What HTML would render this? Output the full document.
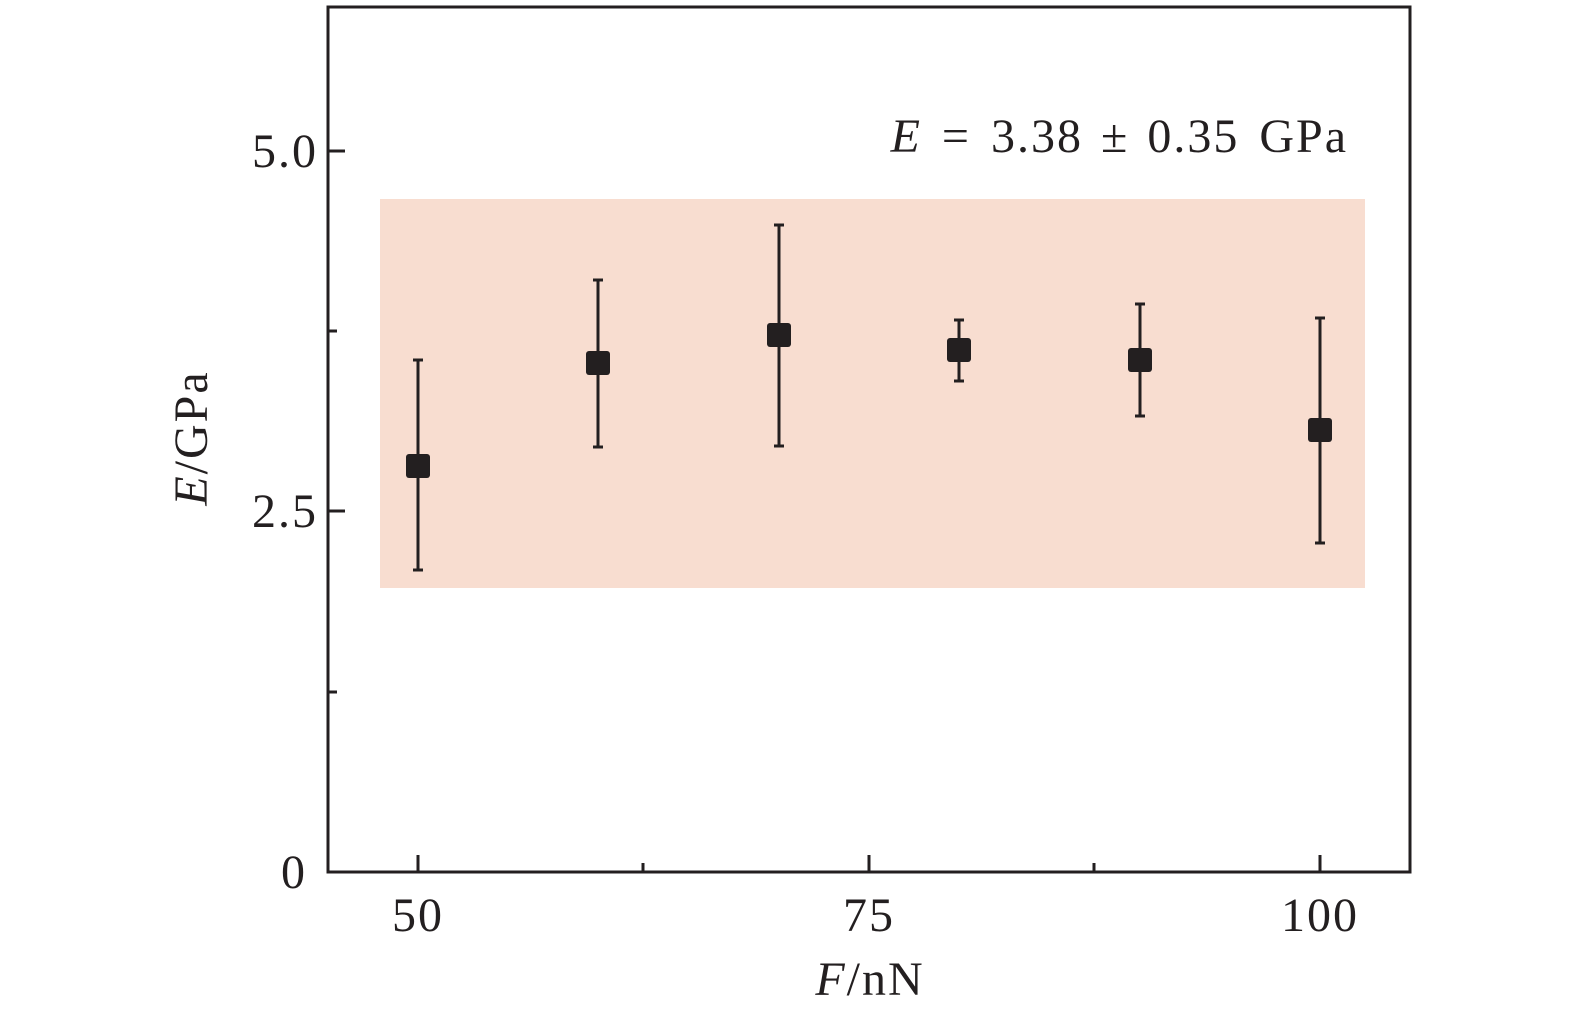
<!DOCTYPE html>
<html><head><meta charset="utf-8"><style>
html,body{margin:0;padding:0;background:#fff;overflow:hidden;width:1575px;height:1014px;}
svg{display:block;}
</style></head><body>
<svg width="1575" height="1014" xmlns="http://www.w3.org/2000/svg" font-family="'Liberation Serif', serif" fill="#231f20">
<rect x="380" y="199" width="985" height="389" fill="#f8ddd0"/>
<g stroke="#231f20" stroke-width="3" fill="none">
<rect x="328" y="7" width="1082" height="865"/>
<line x1="328" y1="151" x2="345" y2="151"/>
<line x1="328" y1="511" x2="345" y2="511"/>
<line x1="328" y1="331" x2="337" y2="331"/>
<line x1="328" y1="692" x2="337" y2="692"/>
<line x1="418" y1="872" x2="418" y2="855"/>
<line x1="869" y1="872" x2="869" y2="855"/>
<line x1="1320" y1="872" x2="1320" y2="855"/>
<line x1="643" y1="872" x2="643" y2="863"/>
<line x1="1094" y1="872" x2="1094" y2="863"/>
</g>
<g stroke="#231f20" stroke-width="3">
<line x1="418" y1="360" x2="418" y2="570"/><line x1="413" y1="360" x2="423" y2="360"/><line x1="413" y1="570" x2="423" y2="570"/>
<line x1="598" y1="280" x2="598" y2="447"/><line x1="593" y1="280" x2="603" y2="280"/><line x1="593" y1="447" x2="603" y2="447"/>
<line x1="779" y1="225" x2="779" y2="446"/><line x1="774" y1="225" x2="784" y2="225"/><line x1="774" y1="446" x2="784" y2="446"/>
<line x1="959" y1="320" x2="959" y2="381"/><line x1="954" y1="320" x2="964" y2="320"/><line x1="954" y1="381" x2="964" y2="381"/>
<line x1="1140" y1="304" x2="1140" y2="416"/><line x1="1135" y1="304" x2="1145" y2="304"/><line x1="1135" y1="416" x2="1145" y2="416"/>
<line x1="1320" y1="318" x2="1320" y2="543"/><line x1="1315" y1="318" x2="1325" y2="318"/><line x1="1315" y1="543" x2="1325" y2="543"/>
</g>
<g>
<rect x="406" y="454" width="24" height="24" rx="3"/>
<rect x="586" y="351" width="24" height="24" rx="3"/>
<rect x="767" y="323" width="24" height="24" rx="3"/>
<rect x="947" y="338" width="24" height="24" rx="3"/>
<rect x="1128" y="348" width="24" height="24" rx="3"/>
<rect x="1308" y="418" width="24" height="24" rx="3"/>
</g>
<g font-size="48" text-anchor="end" letter-spacing="2">
<text x="318" y="167">5.0</text>
<text x="318" y="527">2.5</text>
<text x="307" y="888">0</text>
</g>
<g font-size="48" text-anchor="middle" letter-spacing="2">
<text x="418" y="931">50</text>
<text x="869" y="931">75</text>
<text x="1320" y="931">100</text>
<text x="870" y="995"><tspan font-style="italic">F</tspan>/nN</text>
</g>
<text transform="translate(207,438) rotate(-90)" font-size="48" text-anchor="middle" letter-spacing="2"><tspan font-style="italic">E</tspan>/GPa</text>
<text x="1348" y="152" font-size="48" text-anchor="end" letter-spacing="2"><tspan font-style="italic">E</tspan> <tspan dx="6">=</tspan> <tspan dx="6">3.38</tspan> <tspan dx="4">±</tspan> <tspan dx="4">0.35</tspan> <tspan dx="6">GPa</tspan></text>
</svg>
</body></html>
